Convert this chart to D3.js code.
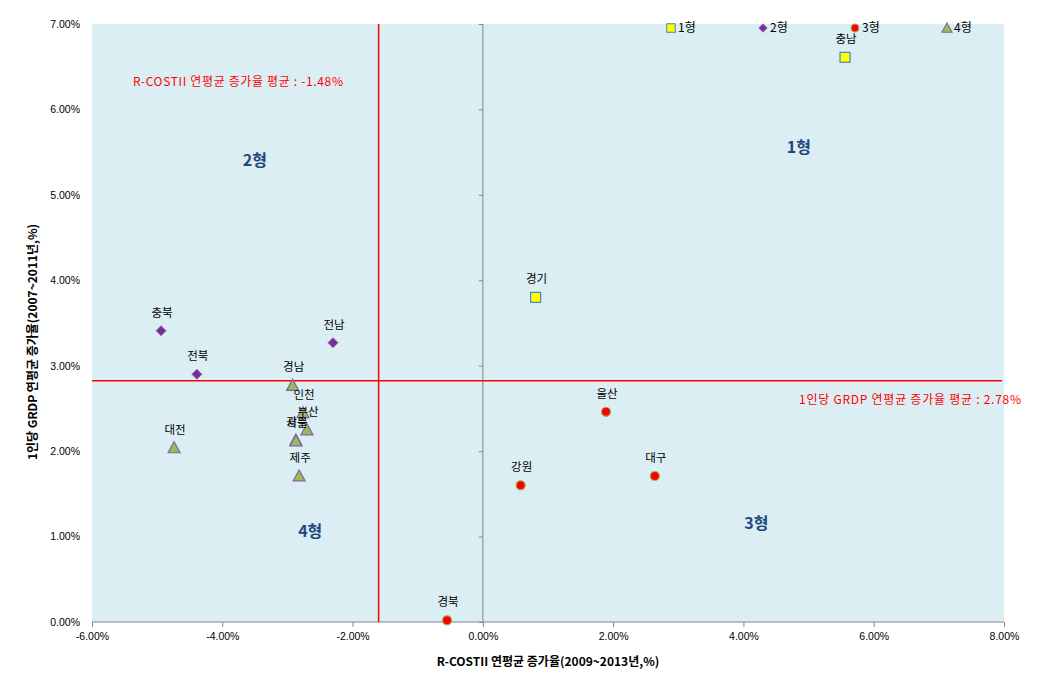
<!DOCTYPE html>
<html><head><meta charset="utf-8">
<script src="https://cdn.jsdelivr.net/npm/d3@7"></script>
<style>
body{margin:0;background:#fff;}
svg{display:block;}
</style></head>
<body><svg id="c" width="1041" height="675"></svg>
<script>
// ---- data ----
const regions = ["충남","경기","충북","전북","전남","울산","강원","대구","경북","경남","인천","부산","광주","서울","대전","제주"];
const xValues = [5.56, 0.81, -4.94, -4.39, -2.30, 1.89, 0.58, 2.64, -0.55, -2.92, -2.76, -2.70, -2.87, -2.87, -4.74, -2.82];
const yValues = [6.61, 3.80, 3.41, 2.90, 3.27, 2.46, 1.60, 1.71, 0.02, 2.77, 2.45, 2.25, 2.13, 2.12, 2.04, 1.71];
const types   = [1, 1, 2, 2, 2, 3, 3, 3, 3, 4, 4, 4, 4, 4, 4, 4];
const typeNames = ["1형","2형","3형","4형"];
const xTicks = [-6, -4, -2, 0, 2, 4, 6, 8];
const yTicks = [0, 1, 2, 3, 4, 5, 6, 7];
const xMeanLine = -1.6, yMeanLine = 2.825;
const xMeanText = "R-COSTII 연평균 증가율 평균 : -1.48%";
const yMeanText = "1인당 GRDP 연평균 증가율 평균 : 2.78%";
const xTitle = "R-COSTII 연평균 증가율(2009~2013년,%)";
const yTitle = "1인당 GRDP 연평균 증가율(2007~2011년,%)";
// quadrant label anchors (data units)
const quadX = [4.85, -3.5, 4.2, -2.65];
const quadY = [5.55, 5.4, 1.16, 1.06];

const svg = d3.select("#c");
const L = 92, R = 1004, T = 24, B = 622;
const x = d3.scaleLinear().domain([-6, 8]).range([L, R]);
const y = d3.scaleLinear().domain([0, 7]).range([B, T]);
const latin = "'Liberation Sans', Arial, sans-serif";
const kr = "'Noto Sans CJK KR', 'Noto Sans', sans-serif";

svg.append("rect").attr("x", L).attr("y", T).attr("width", R - L).attr("height", B - T).attr("fill", "#DAEEF3");

// y axis at x=0 (ticks only)
const yAx = svg.append("g").attr("transform", `translate(${x(0)},0)`)
  .call(d3.axisLeft(y).tickValues(yTicks).tickSize(4).tickFormat(""));
yAx.select(".domain").attr("stroke", "#868686").attr("d", `M0,${T}V${B}`);
yAx.selectAll(".tick line").attr("stroke", "#868686");
// y tick labels at left
const yLab = svg.append("g").attr("transform", `translate(${L},0)`)
  .call(d3.axisLeft(y).tickValues(yTicks).tickSize(0).tickPadding(12).tickFormat(d => d.toFixed(2) + "%"));
yLab.select(".domain").remove();
yLab.selectAll("text").attr("font-family", latin).attr("font-size", "10.5px").attr("fill", "#000");

// x axis
const xAx = svg.append("g").attr("transform", `translate(0,${B})`)
  .call(d3.axisBottom(x).tickValues(xTicks).tickSize(5).tickPadding(6).tickFormat(d => d.toFixed(2) + "%"));
xAx.select(".domain").attr("stroke", "#868686").attr("d", `M${L},0H${R}`);
xAx.selectAll(".tick line").attr("stroke", "#868686");
xAx.selectAll("text").attr("font-family", latin).attr("font-size", "10.5px").attr("fill", "#000");

// mean lines
svg.append("line").attr("x1", L).attr("x2", x(7.97)).attr("y1", y(yMeanLine)).attr("y2", y(yMeanLine))
  .attr("stroke", "#FF0000").attr("stroke-width", 1.5);
svg.append("line").attr("x1", x(xMeanLine)).attr("x2", x(xMeanLine)).attr("y1", T).attr("y2", B)
  .attr("stroke", "#FF0000").attr("stroke-width", 1.5);

svg.append("text").attr("x", 133).attr("y", 82).attr("dy", "0.35em")
  .attr("textLength", 210).attr("lengthAdjust", "spacing")
  .attr("font-family", kr).attr("font-size", "12px").attr("fill", "#FF0000").text(xMeanText);
svg.append("text").attr("x", 799).attr("y", 400).attr("dy", "0.35em")
  .attr("textLength", 222).attr("lengthAdjust", "spacing")
  .attr("font-family", kr).attr("font-size", "12px").attr("fill", "#FF0000").text(yMeanText);

// quadrant labels
typeNames.forEach((t, i) => {
  svg.append("text").attr("x", x(quadX[i])).attr("y", y(quadY[i])).attr("dy", "0.35em").attr("text-anchor", "middle")
    .attr("font-family", kr).attr("font-size", "16px").attr("font-weight", "bold").attr("fill", "#1F497D").text(t);
});

// markers
function marker(g, type) {
  if (type === 1) g.append("rect").attr("x", -5).attr("y", -5).attr("width", 10).attr("height", 10)
      .attr("fill", "#FFFF00").attr("stroke", "#4F81BD").attr("stroke-width", 1.2);
  else if (type === 2) g.append("path").attr("d", "M0,-5L5,0L0,5L-5,0Z")
      .attr("fill", "#7030A0").attr("stroke", "#B0508A").attr("stroke-width", 0.8);
  else if (type === 3) g.append("circle").attr("r", 4.6)
      .attr("fill", "#FF0000").attr("stroke", "#9BBB59").attr("stroke-width", 1.2);
  else g.append("path").attr("d", "M0,-6L6,5L-6,5Z")
      .attr("fill", "#9BBB59").attr("stroke", "#8064A2").attr("stroke-width", 1.2);
}

const pts = svg.append("g");
regions.forEach((r, i) => {
  const g = pts.append("g").attr("transform", `translate(${x(xValues[i])},${y(yValues[i])})`);
  marker(g, types[i]);
});
regions.forEach((r, i) => {
  pts.append("text").attr("x", x(xValues[i]) + 1).attr("y", y(yValues[i]) - 18).attr("dy", "0.35em")
    .attr("text-anchor", "middle").attr("font-family", kr).attr("font-size", "11.5px").attr("fill", "#000").text(r);
});

// legend
const legX = [671, 763, 855, 947];
typeNames.forEach((t, i) => {
  const g = svg.append("g").attr("transform", `translate(${legX[i]},28)`);
  marker(g, i + 1);
  g.select("*").attr("transform", "scale(0.85)");
  g.append("text").attr("x", 7).attr("y", 0).attr("dy", "0.35em").attr("font-family", kr)
    .attr("font-size", "12px").attr("fill", "#000").text(t);
});

// axis titles
svg.append("text").attr("x", (L + R) / 2).attr("y", 662).attr("dy", "0.35em").attr("text-anchor", "middle")
  .attr("font-family", kr).attr("font-size", "12px").attr("font-weight", "bold").attr("fill", "#000").text(xTitle);
svg.append("text").attr("transform", "translate(33,342) rotate(-90)").attr("dy", "0.35em").attr("text-anchor", "middle")
  .attr("font-family", kr).attr("font-size", "12px").attr("font-weight", "bold").attr("fill", "#000").text(yTitle);
</script></body></html>
